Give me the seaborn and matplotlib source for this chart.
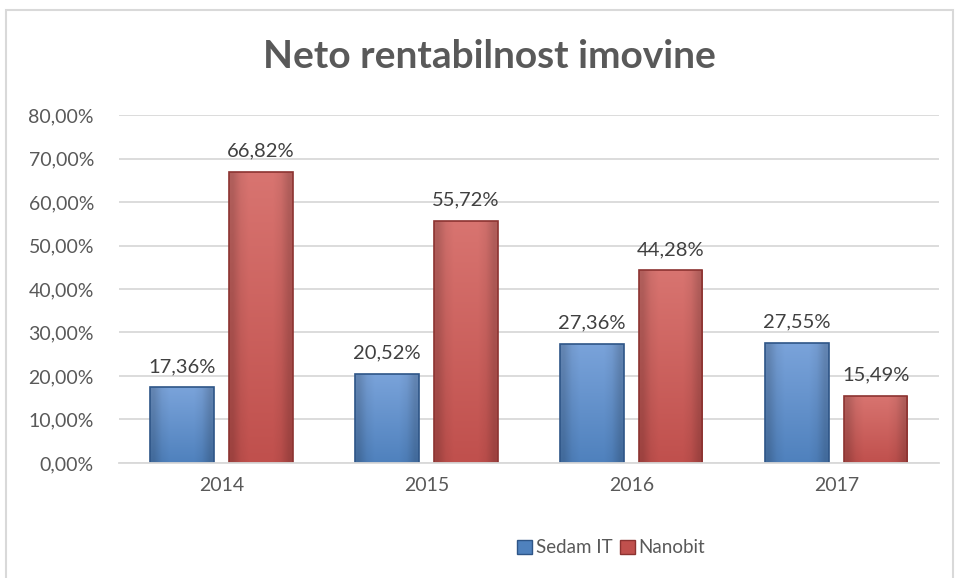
import numpy as np
import pandas as pd
import matplotlib.pyplot as plt
import matplotlib.ticker as mticker
from matplotlib.patches import Rectangle, Patch
from matplotlib.colors import to_rgb
import seaborn as sns

# data
years = ["2014", "2015", "2016", "2017"]
sedam_it = [17.36, 20.52, 27.36, 27.55]
nanobit = [66.82, 55.72, 44.28, 15.49]
series = ["Sedam IT", "Nanobit"]

df = pd.DataFrame({
    "year": years * 2,
    "value": sedam_it + nanobit,
    "firm": [series[0]] * 4 + [series[1]] * 4,
})

sns.set_style("white")
plt.rcParams["font.family"] = ["Lato", "DejaVu Sans"]

colors = {"Sedam IT": "#4F81BD", "Nanobit": "#C0504D"}
edges = {"Sedam IT": "#2E5587", "Nanobit": "#8C3331"}
tops = {"Sedam IT": "#7AA3DA", "Nanobit": "#D87470"}

fig = plt.figure(figsize=(9.55, 5.78), dpi=100)
ax = fig.add_axes([0.1246, 0.199, 0.8586, 0.602])

sns.barplot(data=df, x="year", y="value", hue="firm", palette=colors,
            width=0.77, gap=0.2, ax=ax, legend=False)

ax.set_xlim(-0.5, 3.5)
ax.set_ylim(0, 80)
ax.set_autoscale_on(False)

# fake bevel: vertical gradient clipped to each bar
for container, name in zip(ax.containers, series):
    c_top = np.array(to_rgb(tops[name]))
    c_bot = np.array(to_rgb(colors[name]))
    for bar in container:
        x0 = bar.get_x()
        w = bar.get_width()
        h = bar.get_height()
        bar.set_edgecolor(edges[name])
        bar.set_linewidth(1.2)
        t = np.linspace(0, 1, 64)[:, None]
        grad = c_top * (1 - t) + c_bot * t
        img = np.repeat(grad[:, None, :], 8, axis=1)
        # darker sides
        side = np.array([0.82, 0.95, 1, 1, 1, 1, 0.95, 0.82])[None, :, None]
        img = np.clip(img * side, 0, 1)
        im = ax.imshow(img, extent=[x0, x0 + w, 0, h], aspect="auto",
                       interpolation="bilinear", zorder=bar.get_zorder())
        im.set_clip_path(bar)
        bar.set_zorder(bar.get_zorder() + 0.1)
        bar.set_facecolor("none")
        ax.annotate(f"{h:.2f}%".replace(".", ","), (x0 + w / 2, h),
                    xytext=(0, 9), textcoords="offset points",
                    ha="center", va="bottom", fontsize=14.5, color="#404040")

ax.yaxis.set_major_locator(mticker.MultipleLocator(10))
ax.yaxis.set_major_formatter(
    mticker.FuncFormatter(lambda v, p: f"{v:.2f}%".replace(".", ",")))
ax.grid(axis="y", color="#D9D9D9", linewidth=1.3)
ax.set_axisbelow(True)
for s in ["top", "right", "left"]:
    ax.spines[s].set_visible(False)
ax.spines["bottom"].set_color("#D9D9D9")
ax.spines["bottom"].set_linewidth(1.3)
ax.tick_params(axis="both", length=0, labelsize=14, labelcolor="#595959")
ax.tick_params(axis="y", pad=18)
ax.tick_params(axis="x", pad=10)
ax.set_xlabel("")
ax.set_ylabel("")

fig.text(0.513, 0.902, "Neto rentabilnost imovine", ha="center", va="center",
         fontsize=28, fontweight="bold", color="#595959")

handles = [Patch(facecolor=colors[s], edgecolor=edges[s]) for s in series]
fig.legend(handles, series, loc="center", bbox_to_anchor=(0.64, 0.052),
           ncol=2, frameon=False, fontsize=13.5, handlelength=0.8,
           handleheight=0.8, handletextpad=0.2, columnspacing=0.4,
           labelcolor="#595959")

# chart border
fig.patches.append(Rectangle((6 / 955, -0.05), 947 / 955, 1.05 - 10 / 578,
                             transform=fig.transFigure, fill=False,
                             edgecolor="#D9D9D9", linewidth=1.5))

fig.savefig("out.png", dpi=100)
